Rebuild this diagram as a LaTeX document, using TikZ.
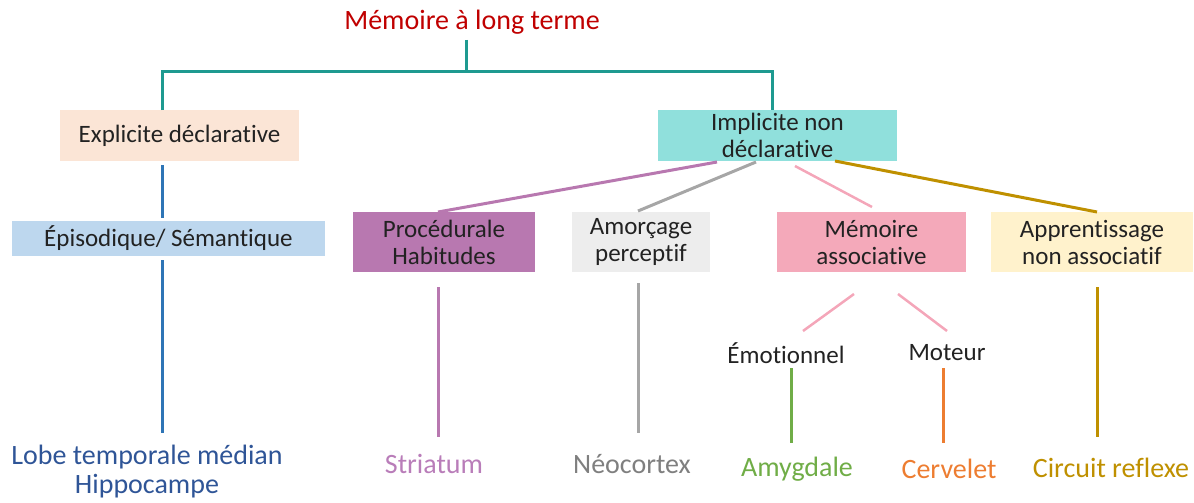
\documentclass[tikz,border=0pt]{standalone}
\usepackage{fontspec}
\setmainfont{Carlito}[Ligatures=NoCommon]
\definecolor{cTitle}{HTML}{C00000}
\definecolor{cTeal}{HTML}{1E9A90}
\definecolor{cBlue}{HTML}{2E75B6}
\definecolor{cBlueT}{HTML}{2F5597}
\definecolor{cPurp}{HTML}{B878B0}
\definecolor{cPurpT}{HTML}{B97DB9}
\definecolor{cGray}{HTML}{A6A6A6}
\definecolor{cGrayT}{HTML}{7F7F7F}
\definecolor{cPink}{HTML}{F4A6B9}
\definecolor{cGold}{HTML}{BF9000}
\definecolor{cGreen}{HTML}{70AD47}
\definecolor{cOrange}{HTML}{ED7D31}
\definecolor{fExpl}{HTML}{FBE5D6}
\definecolor{fImpl}{HTML}{90E0DC}
\definecolor{fEpi}{HTML}{BDD7EE}
\definecolor{fProc}{HTML}{B878B0}
\definecolor{fAmor}{HTML}{EDEDED}
\definecolor{fAsso}{HTML}{F4A9BA}
\definecolor{fAppr}{HTML}{FFF2CC}
\definecolor{cTxt}{HTML}{222222}
\begin{document}
\begin{tikzpicture}[x=1pt,y=-1pt,
  box/.style={inner sep=0pt, align=center, text=cTxt, font=\fontsize{25}{27}\selectfont},
  lbl/.style={inner sep=0pt, align=center, text=cTxt, font=\fontsize{25}{27}\selectfont},
  leaf/.style={inner sep=0pt, align=center, font=\fontsize{28}{29}\selectfont},
  conn/.style={line width=3pt},
]
\useasboundingbox (0,0) rectangle (1194,503);
% nodes
\node[leaf, text=cTitle] (root) at (472,22) {Mémoire à long terme};
\node[box, fill=fExpl, minimum width=239, minimum height=51] (expl) at (179.5,135.5) {Explicite déclarative};
\node[box, fill=fImpl, minimum width=239, minimum height=51] (impl) at (777.5,135.5) {Implicite non\\déclarative};
\node[box, fill=fEpi, minimum width=313, minimum height=35] (epi) at (168.5,238.5) {Épisodique/ Sémantique};
\node[box, fill=fProc, minimum width=182, minimum height=60] (proc) at (444,242) {Procédurale\\Habitudes};
\node[box, fill=fAmor, minimum width=138, minimum height=60] (amor) at (641,242) {Amorçage\\perceptif};
\node[box, fill=fAsso, minimum width=189, minimum height=60] (asso) at (871.5,242) {Mémoire\\associative};
\node[box, fill=fAppr, minimum width=202, minimum height=60] (appr) at (1092,242) {Apprentissage\\non associatif};
\node[lbl] (emo) at (786,353) {Émotionnel};
\node[lbl] (mot) at (947,353) {Moteur};
\node[leaf, text=cBlueT] (lobe) at (147,472) {Lobe temporale médian\\Hippocampe};
\node[leaf, text=cPurpT] (stri) at (434,464) {Striatum};
\node[leaf, text=cGrayT] (neo) at (632,464) {Néocortex};
\node[leaf, text=cGreen] (amyg) at (797,469) {Amygdale};
\node[leaf, text=cOrange] (cerv) at (949,469) {Cervelet};
\node[leaf, text=cGold] (circ) at (1111,468) {Circuit reflexe};
% connector end points
\coordinate (rt) at (466,40);
\coordinate (bar) at (466,72);
\coordinate (el) at (162,110);
\coordinate (ir) at (772,110);
\coordinate (e1) at (162,165);
\coordinate (e2) at (162,218);
\coordinate (e3) at (162,260);
\coordinate (e4) at (162,433);
\coordinate (ip) at (717,162);
\coordinate (ig) at (756,162);
\coordinate (ik) at (795,166);
\coordinate (io) at (835,161);
\coordinate (pt) at (438,212);
\coordinate (gt) at (638,211);
\coordinate (kt) at (872,207);
\coordinate (ot) at (1097,212);
\coordinate (p1) at (438,287);
\coordinate (p2) at (438,437);
\coordinate (g1) at (638,283);
\coordinate (g2) at (638,433);
\coordinate (o1) at (1097,287);
\coordinate (o2) at (1097,437);
\coordinate (k1) at (854,294);
\coordinate (k2) at (803,331);
\coordinate (k3) at (898,294);
\coordinate (k4) at (947,331);
\coordinate (v1) at (791,368);
\coordinate (v2) at (791,443);
\coordinate (r1) at (943,368);
\coordinate (r2) at (943,443);
% connectors
\draw[conn, cTeal] (rt) -- (bar);
\draw[conn, cTeal] (el) |- (bar) -| (ir);
\draw[conn, cBlue] (e1) -- (e2);
\draw[conn, cBlue] (e3) -- (e4);
\draw[conn, cPurp] (ip) -- (pt);
\draw[conn, cGray] (ig) -- (gt);
\draw[conn, cPink, line width=2.5pt] (ik) -- (kt);
\draw[conn, cGold] (io) -- (ot);
\draw[conn, cPurp] (p1) -- (p2);
\draw[conn, cGray] (g1) -- (g2);
\draw[conn, cGold] (o1) -- (o2);
\draw[conn, cPink, line width=2.5pt] (k1) -- (k2);
\draw[conn, cPink, line width=2.5pt] (k3) -- (k4);
\draw[conn, cGreen] (v1) -- (v2);
\draw[conn, cOrange] (r1) -- (r2);
\end{tikzpicture}
\end{document}
